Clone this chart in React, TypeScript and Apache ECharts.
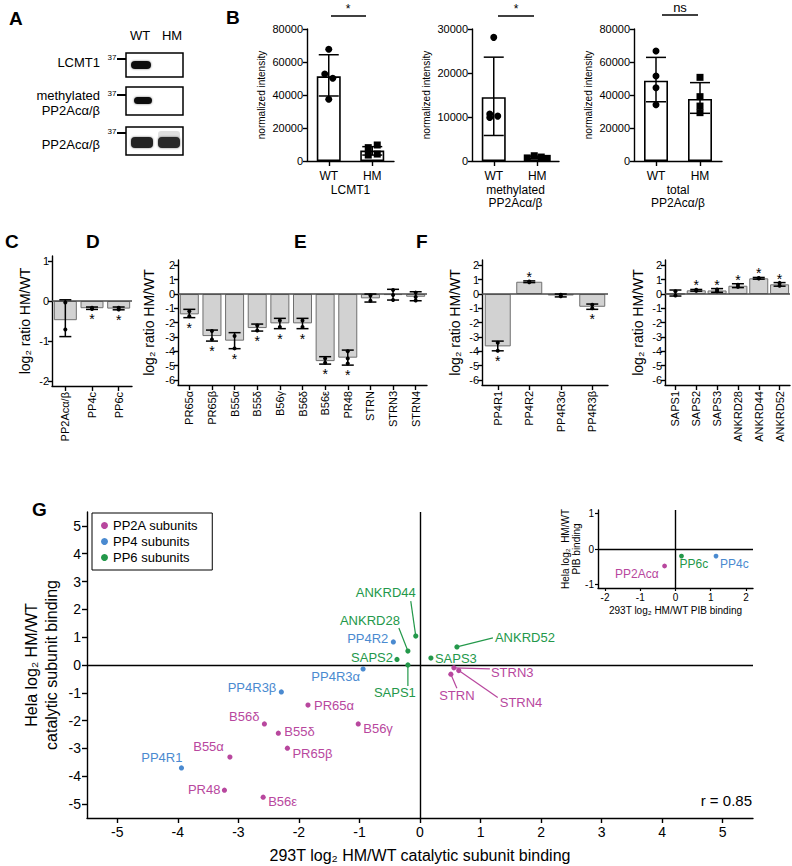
import React, { useEffect, useRef } from "react";
import * as echarts from "echarts";

const FONT = "'Liberation Sans', Arial, Helvetica, sans-serif";
const NARROW = "'Liberation Sans Narrow', 'Liberation Sans', Arial, sans-serif";

// ---------------- Panel B data ----------------
const bCategories = ["WT", "HM"];
const lcmt1Mean = [51300, 6300];
const lcmt1Low = [39400, 3600];
const lcmt1High = [64400, 8700];
const lcmt1WT = [67700, 52700, 50100, 37400];
const lcmt1HM = [9700, 8100, 4200, 3600];

const methMean = [14500, 800];
const methLow = [5800, 500];
const methHigh = [23600, 1100];
const methWT = [28100, 10700, 9900, 10200];
const methHM = [700, 1200, 900, 600];

const totalMean = [48700, 37600];
const totalLow = [35900, 28900];
const totalHigh = [62800, 47500];
const totalWT = [66700, 51500, 44400, 34100];
const totalHM = [50700, 39000, 33300, 29300];

// ---------------- Panel C data ----------------
const cCategories = ["PP2Acα/β", "PP4c", "PP6c"];
const cMeans = [-0.48, -0.18, -0.19];
const cLow = [-0.89, -0.21, -0.22];
const cHigh = [0.03, -0.15, -0.15];
const cPoints = [[-0.04, -0.71], [-0.17, -0.2], [-0.17, -0.21]];
const cStars = ["", "below", "below"];
const cTicks = [-2, -1, 0, 1];

// ---------------- Panel D data ----------------
const dCategories = ["PR65α", "PR65β", "B55α", "B55δ", "B56γ", "B56δ", "B56ε", "PR48", "STRN", "STRN3", "STRN4"];
const dMeans = [-1.42, -2.94, -3.26, -2.38, -2.05, -2.05, -4.69, -4.45, -0.3, -0.07, -0.19];
const dLow = [-1.65, -3.29, -3.82, -2.59, -2.42, -2.42, -4.9, -4.97, -0.56, -0.42, -0.47];
const dHigh = [-1.07, -2.52, -2.7, -2.1, -1.7, -1.7, -4.38, -3.92, 0.0, 0.33, 0.16];
const dPoints = [[-1.2, -1.55], [-2.59, -3.17], [-2.94, -3.8], [-2.2, -2.55], [-1.85, -2.3], [-1.85, -2.3], [-4.5, -4.8], [-4.0, -4.5, -4.85], [-0.1, -0.47], [0.28, -0.07, -0.42], [0.1, -0.2, -0.45]];
const dStars = ["below", "below", "below", "below", "below", "below", "below", "below", "", "", ""];
const defTicks = [-6, -5, -4, -3, -2, -1, 0, 1, 2];

// ---------------- Panel E data ----------------
const eCategories = ["PP4R1", "PP4R2", "PP4R3α", "PP4R3β"];
const eMeans = [-3.66, 0.86, -0.1, -0.89];
const eLow = [-3.97, 0.8, -0.2, -1.07];
const eHigh = [-3.29, 0.92, 0.0, -0.7];
const ePoints = [[-3.4, -3.97], [0.83, 0.88], [-0.05, -0.15], [-0.75, -1.0]];
const eStars = ["below", "above", "", "below"];

// ---------------- Panel F data ----------------
const fCategories = ["SAPS1", "SAPS2", "SAPS3", "ANKRD28", "ANKRD44", "ANKRD52"];
const fMeans = [0.02, 0.26, 0.25, 0.58, 1.1, 0.68];
const fLow = [-0.14, 0.2, 0.12, 0.45, 1.04, 0.55];
const fHigh = [0.28, 0.32, 0.38, 0.72, 1.16, 0.8];
const fPoints = [[0.2, -0.1], [0.22, 0.3], [0.2, 0.32], [0.5, 0.65], [1.08, 1.12], [0.58, 0.78]];
const fStars = ["", "above", "above", "above", "above", "above"];

// ---------------- Panel G data ----------------
const pp2aNames = ["PR65α", "PR65β", "B55α", "B55δ", "B56γ", "B56δ", "B56ε", "PR48", "STRN", "STRN3", "STRN4"];
const pp2aX = [-1.85, -2.19, -3.14, -2.34, -1.02, -2.57, -2.59, -3.23, 0.51, 0.56, 0.64];
const pp2aY = [-1.44, -2.99, -3.31, -2.45, -2.12, -2.12, -4.75, -4.5, -0.33, -0.1, -0.2];
const pp4Names = ["PP4R1", "PP4R2", "PP4R3α", "PP4R3β"];
const pp4X = [-3.94, -0.44, -0.94, -2.29];
const pp4Y = [-3.7, 0.83, -0.14, -0.97];
const pp6Names = ["SAPS1", "SAPS2", "SAPS3", "ANKRD28", "ANKRD44", "ANKRD52"];
const pp6X = [-0.2, -0.38, 0.18, -0.2, -0.07, 0.61];
const pp6Y = [0.0, 0.2, 0.25, 0.5, 1.04, 0.65];
const gTicks = [-5, -4, -3, -2, -1, 0, 1, 2, 3, 4, 5];
const correlationText = "r = 0.85";

// inset
const insetNames = ["PP2Acα", "PP4c", "PP6c"];
const insetX = [-0.31, 1.15, 0.17];
const insetY = [-0.48, -0.2, -0.2];
const insetGroups = ["PP2A", "PP4", "PP6"];
const insetXTicks = [-2, -1, 0, 1, 2];
const insetYTicks = [-1, 0, 1];

// ---------------- styling / layout (not data) ----------------
const COLORS: Record<string, string> = { PP2A: "#b8479e", PP4: "#4a8ad0", PP6: "#23984a" };

const gPlacement: Record<string, { dx: number; dy: number; align: string; line?: [number, number] }> = {
  "PR65α": { dx: 6, dy: 0, align: "left" },
  "PR65β": { dx: 5, dy: 5, align: "left" },
  "B55α": { dx: -6, dy: -11, align: "right" },
  "B55δ": { dx: 6, dy: -2, align: "left" },
  "B56γ": { dx: 5, dy: 5, align: "left" },
  "B56δ": { dx: -5, dy: -7, align: "right" },
  "B56ε": { dx: 5, dy: 4, align: "left" },
  "PR48": { dx: -4, dy: -1, align: "right" },
  "STRN": { dx: 6, dy: 21, align: "center", line: [6, 14] },
  "STRN3": { dx: 37, dy: 5, align: "left", line: [36, 1] },
  "STRN4": { dx: 41, dy: 32, align: "left", line: [39, 27] },
  "PP4R1": { dx: 1, dy: -10, align: "right" },
  "PP4R2": { dx: -5, dy: -3, align: "right" },
  "PP4R3α": { dx: -3, dy: 8, align: "right" },
  "PP4R3β": { dx: -5, dy: -4, align: "right" },
  "SAPS1": { dx: -13, dy: 27, align: "center", line: [0, 21] },
  "SAPS2": { dx: -4, dy: -2, align: "right" },
  "SAPS3": { dx: 4, dy: 0, align: "left" },
  "ANKRD28": { dx: -38, dy: -31, align: "center", line: [-9, -23] },
  "ANKRD44": { dx: -30, dy: -44, align: "center", line: [-5, -35] },
  "ANKRD52": { dx: 38, dy: -9, align: "left", line: [36, -9] },
};
const insetPlacement: Record<string, { dx: number; dy: number; align: string }> = {
  "PP2Acα": { dx: -6, dy: 8, align: "right" },
  "PP4c": { dx: 4, dy: 8, align: "left" },
  "PP6c": { dx: -2, dy: 8, align: "left" },
};

const LW = 1.4;
const axLine = { show: true, onZero: false, lineStyle: { color: "#000", width: LW } };
const plain = (v: number) => String(v);

function buildOption() {
  const grid: any[] = [];
  const xAxis: any[] = [];
  const yAxis: any[] = [];
  const series: any[] = [];

  function addBarPanel(cfg: any) {
    const gi = grid.length;
    const [left, top, width, height] = cfg.box;
    grid.push({ left, top, width, height, containLabel: false, outerBoundsMode: "none" });
    xAxis.push({
      type: "category",
      gridIndex: gi,
      data: cfg.cats,
      axisLine: axLine,
      axisTick: { show: true, alignWithLabel: true, length: 5, lineStyle: { color: "#000", width: LW } },
      axisLabel: cfg.catLabel,
      splitLine: { show: false },
      name: cfg.xName || "",
      nameLocation: "middle",
      nameGap: cfg.xNameGap || 0,
      nameTextStyle: { fontSize: 12, lineHeight: 13, fontFamily: NARROW, color: "#000" },
      nameMoveOverlap: false,
    });
    const yAx: any = {
      type: "value",
      gridIndex: gi,
      min: cfg.min,
      max: cfg.max,
      axisLine: axLine,
      splitLine: { show: false },
      name: cfg.yName,
      nameLocation: "middle",
      nameGap: cfg.yNameGap,
      nameRotate: 90,
      nameTextStyle: { fontSize: cfg.yNameSize, fontFamily: cfg.yNameFont || FONT, color: "#000" },
      nameMoveOverlap: false,
    };
    if (cfg.interval) {
      yAx.interval = cfg.interval;
      yAx.axisTick = { show: true, length: 4, lineStyle: { color: "#000", width: LW } };
      yAx.axisLabel = { fontSize: cfg.yLabelSize, fontFamily: NARROW, color: "#000", margin: 4, formatter: plain };
    } else {
      yAx.axisTick = { show: true, length: 4, customValues: cfg.ticks, lineStyle: { color: "#000", width: LW } };
      yAx.axisLabel = { fontSize: cfg.yLabelSize, fontFamily: NARROW, color: "#000", margin: 3, customValues: cfg.ticks, formatter: plain };
    }
    yAxis.push(yAx);

    const bar: any = {
      type: "bar",
      xAxisIndex: gi,
      yAxisIndex: gi,
      data: cfg.means,
      barWidth: cfg.barWidth,
      silent: true,
      itemStyle: { color: cfg.barColor, borderColor: cfg.barBorder, borderWidth: cfg.barBorderWidth },
      z: 2,
    };
    if (cfg.zeroLine) {
      bar.markLine = {
        silent: true,
        symbol: ["none", "none"],
        label: { show: false },
        lineStyle: { color: "#4a4a4a", width: 1.6, type: "solid" },
        data: [{ yAxis: 0 }],
        z: 3,
      };
    }
    series.push(bar);

    const cap = cfg.capWidth;
    series.push({
      type: "custom",
      xAxisIndex: gi,
      yAxisIndex: gi,
      silent: true,
      z: 4,
      data: cfg.means.map((_: number, i: number) => [i, cfg.low[i], cfg.high[i]]),
      encode: { x: 0, y: [1, 2] },
      renderItem: (_p: any, api: any) => {
        const x = api.value(0);
        const lo = api.coord([x, api.value(1)]);
        const hi = api.coord([x, api.value(2)]);
        const h = cap / 2;
        const st = { stroke: "#000", lineWidth: 1.5 };
        return {
          type: "group",
          children: [
            { type: "line", shape: { x1: lo[0], y1: lo[1], x2: hi[0], y2: hi[1] }, style: st },
            { type: "line", shape: { x1: lo[0] - h, y1: lo[1], x2: lo[0] + h, y2: lo[1] }, style: st },
            { type: "line", shape: { x1: hi[0] - h, y1: hi[1], x2: hi[0] + h, y2: hi[1] }, style: st },
          ],
        };
      },
    });

    const pts: any[] = [];
    cfg.points.forEach((arr: number[], ci: number) => {
      arr.forEach((v: number, k: number) => {
        pts.push({
          value: [ci, v],
          symbol: cfg.pointSymbols ? cfg.pointSymbols[ci] : "circle",
          symbolOffset: [cfg.jitter && cfg.jitter[ci] ? cfg.jitter[ci][k] : 0, 0],
        });
      });
    });
    series.push({
      type: "scatter",
      xAxisIndex: gi,
      yAxisIndex: gi,
      silent: true,
      z: 5,
      symbolSize: cfg.pointSize,
      itemStyle: { color: "#000", opacity: 1 },
      data: pts,
    });

    if (cfg.stars) {
      const sd: any[] = [];
      cfg.stars.forEach((s: string, i: number) => {
        if (s === "below") sd.push([i, cfg.low[i], 1]);
        if (s === "above") sd.push([i, cfg.high[i], 2]);
      });
      series.push({
        type: "custom",
        xAxisIndex: gi,
        yAxisIndex: gi,
        silent: true,
        z: 6,
        data: sd,
        encode: { x: 0, y: 1 },
        renderItem: (_p: any, api: any) => {
          const p = api.coord([api.value(0), api.value(1)]);
          const below = api.value(2) === 1;
          return {
            type: "text",
            style: {
              text: "*",
              x: p[0],
              y: below ? p[1] + 10 : p[1] - 4,
              align: "center",
              verticalAlign: "middle",
              font: `${cfg.starSize}px ${FONT}`,
              fill: "#000",
            },
          };
        },
      });
    }
    return gi;
  }

  // ---- Panel B ----
  const bCat = { fontSize: 12, fontFamily: NARROW, color: "#000", margin: 9 };
  const bCommon = {
    cats: bCategories,
    barWidth: 24,
    barColor: "#fff",
    barBorder: "#000",
    barBorderWidth: 1.6,
    zeroLine: false,
    capWidth: 20,
    pointSize: 7,
    pointSymbols: ["circle", "rect"],
    catLabel: bCat,
    yName: "normalized intensity",
    yNameGap: 41,
    yNameSize: 10,
    yNameFont: NARROW,
    yLabelSize: 11,
    xNameGap: 22,
    min: 0,
  };
  addBarPanel({
    ...bCommon,
    box: [307, 29, 87, 132],
    means: lcmt1Mean, low: lcmt1Low, high: lcmt1High,
    points: [lcmt1WT, lcmt1HM],
    jitter: [[0, -4, 4, 0], [5, -4, 5, -4]],
    max: 80000, interval: 20000, xName: "LCMT1",
  });
  addBarPanel({
    ...bCommon,
    box: [472, 29, 87, 132],
    means: methMean, low: methLow, high: methHigh,
    points: [methWT, methHM],
    jitter: [[0, -4, -4, 4], [-10, -3, 4, 10]],
    max: 30000, interval: 10000, xName: "methylated\nPP2Acα/β",
  });
  addBarPanel({
    ...bCommon,
    box: [634, 29, 88, 132],
    means: totalMean, low: totalLow, high: totalHigh,
    points: [totalWT, totalHM],
    max: 80000, interval: 20000, xName: "total\nPP2Acα/β",
  });

  // ---- Panels C-F ----
  const cfCat = { fontSize: 11, fontFamily: FONT, color: "#000", rotate: 90, margin: 6 };
  const cfCommon = {
    barColor: "#d2d2d2",
    barBorder: "#6f6f6f",
    barBorderWidth: 1,
    zeroLine: true,
    capWidth: 12,
    pointSize: 4,
    catLabel: cfCat,
    yName: "log₂ ratio HM/WT",
    yNameSize: 14,
    yLabelSize: 11,
    starSize: 14,
  };
  addBarPanel({
    ...cfCommon,
    box: [52, 256, 80, 130],
    cats: cCategories, means: cMeans, low: cLow, high: cHigh, points: cPoints, stars: cStars,
    min: -2.125, max: 1.125, ticks: cTicks, barWidth: 23, yNameGap: 20,
  });
  addBarPanel({
    ...cfCommon,
    box: [178, 260, 249, 125],
    cats: dCategories, means: dMeans, low: dLow, high: dHigh, points: dPoints, stars: dStars,
    min: -6.36, max: 2.38, ticks: defTicks, barWidth: 19, yNameGap: 22,
  });
  addBarPanel({
    ...cfCommon,
    box: [482, 260, 126, 125],
    cats: eCategories, means: eMeans, low: eLow, high: eHigh, points: ePoints, stars: eStars,
    min: -6.36, max: 2.38, ticks: defTicks, barWidth: 26, yNameGap: 20,
  });
  addBarPanel({
    ...cfCommon,
    box: [665, 260, 125, 125],
    cats: fCategories, means: fMeans, low: fLow, high: fHigh, points: fPoints, stars: fStars,
    min: -6.36, max: 2.38, ticks: defTicks, barWidth: 19, yNameGap: 20,
  });

  // ---- Panel G ----
  const gi = grid.length;
  grid.push({ left: 87, top: 512, width: 666, height: 306, containLabel: false, outerBoundsMode: "none" });
  xAxis.push({
    type: "value", gridIndex: gi, min: -5.5, max: 5.5,
    axisLine: axLine,
    axisTick: { show: true, length: 5, customValues: gTicks, lineStyle: { color: "#000", width: LW } },
    axisLabel: { customValues: gTicks, fontSize: 14, fontFamily: FONT, color: "#000", margin: 7 },
    splitLine: { show: false },
    name: "293T log₂ HM/WT catalytic subunit binding",
    nameLocation: "middle", nameGap: 29, nameMoveOverlap: false,
    nameTextStyle: { fontSize: 16, fontFamily: FONT, color: "#000" },
  });
  yAxis.push({
    type: "value", gridIndex: gi, min: -5.5, max: 5.5,
    axisLine: axLine,
    axisTick: { show: true, length: 5, customValues: gTicks, lineStyle: { color: "#000", width: LW } },
    axisLabel: { customValues: gTicks, fontSize: 14, fontFamily: FONT, color: "#000", margin: 6 },
    splitLine: { show: false },
    name: "Hela log₂ HM/WT\ncatalytic subunit binding",
    nameLocation: "middle", nameGap: 26, nameRotate: 90, nameMoveOverlap: false,
    nameTextStyle: { fontSize: 16, lineHeight: 20, fontFamily: FONT, color: "#000" },
  });

  const scatterGroup = (
    name: string, color: string, xs: number[], ys: number[], labels: string[],
    gIndex: number, placement: any, fontSize: number, r: number, withZero: boolean,
  ) => {
    const s: any = {
      type: "custom",
      name,
      xAxisIndex: gIndex,
      yAxisIndex: gIndex,
      silent: true,
      z: 5,
      itemStyle: { color },
      data: xs.map((x, i) => [x, ys[i], i]),
      encode: { x: 0, y: 1 },
      renderItem: (_p: any, api: any) => {
        const i = api.value(2);
        const p = api.coord([api.value(0), api.value(1)]);
        const pl = placement[labels[i]];
        const children: any[] = [];
        if (pl.line) {
          children.push({
            type: "line",
            shape: { x1: p[0], y1: p[1], x2: p[0] + pl.line[0], y2: p[1] + pl.line[1] },
            style: { stroke: color, lineWidth: 1.2 },
          });
        }
        children.push({ type: "circle", shape: { cx: p[0], cy: p[1], r }, style: { fill: color } });
        children.push({
          type: "text",
          style: {
            text: labels[i], x: p[0] + pl.dx, y: p[1] + pl.dy,
            fill: color, font: `${fontSize}px ${FONT}`, align: pl.align, verticalAlign: "middle",
          },
        });
        return { type: "group", children };
      },
    };
    if (withZero) {
      s.markLine = {
        silent: true,
        symbol: ["none", "none"],
        label: { show: false },
        lineStyle: { color: "#000", width: LW, type: "solid" },
        data: [{ xAxis: 0 }, { yAxis: 0 }],
        z: 2,
      };
    }
    return s;
  };

  series.push(scatterGroup("PP2A subunits", COLORS.PP2A, pp2aX, pp2aY, pp2aNames, gi, gPlacement, 13, 2.6, true));
  series.push(scatterGroup("PP4 subunits", COLORS.PP4, pp4X, pp4Y, pp4Names, gi, gPlacement, 13, 2.6, false));
  series.push(scatterGroup("PP6 subunits", COLORS.PP6, pp6X, pp6Y, pp6Names, gi, gPlacement, 13, 2.6, false));

  // ---- Inset ----
  const ii = grid.length;
  grid.push({ left: 598, top: 510, width: 155, height: 78, containLabel: false, outerBoundsMode: "none" });
  xAxis.push({
    type: "value", gridIndex: ii, min: -2.2, max: 2.2,
    axisLine: axLine,
    axisTick: { show: true, length: 3, customValues: insetXTicks, lineStyle: { color: "#000", width: 1.2 } },
    axisLabel: { customValues: insetXTicks, fontSize: 10, fontFamily: FONT, color: "#000", margin: 4 },
    splitLine: { show: false },
    name: "293T log₂ HM/WT PIB binding",
    nameLocation: "middle", nameGap: 17, nameMoveOverlap: false,
    nameTextStyle: { fontSize: 10, fontFamily: FONT, color: "#000" },
  });
  yAxis.push({
    type: "value", gridIndex: ii, min: -1.1, max: 1.1,
    axisLine: axLine,
    axisTick: { show: true, length: 3, customValues: insetYTicks, lineStyle: { color: "#000", width: 1.2 } },
    axisLabel: { customValues: insetYTicks, fontSize: 10, fontFamily: FONT, color: "#000", margin: 4 },
    splitLine: { show: false },
    name: "Hela log₂  HM/WT\nPIB binding",
    nameLocation: "middle", nameGap: 16, nameRotate: 90, nameMoveOverlap: false,
    nameTextStyle: { fontSize: 10, lineHeight: 11, fontFamily: FONT, color: "#000" },
  });
  insetNames.forEach((n, i) => {
    series.push(
      scatterGroup("inset " + n, COLORS[insetGroups[i]], [insetX[i]], [insetY[i]], [n], ii, insetPlacement, 12, 2.4, i === 0),
    );
  });

  // ---- graphic: panel letters, blot (A), significance bars, r text ----
  const letter = (t: string, x: number, y: number) => ({
    type: "text", x, y,
    style: { text: t, font: `bold 19px ${FONT}`, fill: "#000", align: "left", verticalAlign: "top" },
  });
  const txt = (t: string, x: number, y: number, size: number, align = "center", family = FONT) => ({
    type: "text", x, y,
    style: { text: t, font: `${size}px ${family}`, fill: "#000", align, verticalAlign: "middle" },
  });
  const seg = (x1: number, y1: number, x2: number, y2: number, w = 1.5) => ({
    type: "line", shape: { x1, y1, x2, y2 }, style: { stroke: "#000", lineWidth: w },
  });
  const box = (x: number, y: number, w: number, h: number) => ({
    type: "rect", shape: { x, y, width: w, height: h }, style: { fill: "#fff", stroke: "#000", lineWidth: 1.5 },
  });
  const band = (x: number, y: number, w: number, h: number, fill = "#111") => ({
    type: "rect", shape: { x, y, width: w, height: h, r: Math.min(4, h / 2) },
    style: { fill, shadowBlur: 2, shadowColor: "rgba(0,0,0,0.5)" },
  });

  const graphic: any[] = [
    letter("A", 9, 9),
    letter("B", 226, 8),
    letter("C", 5, 232),
    letter("D", 86, 232),
    letter("E", 294, 232),
    letter("F", 416, 232),
    letter("G", 32, 500),
    // blot
    txt("WT", 140, 35, 13),
    txt("HM", 172, 35, 13),
    box(126, 53, 57, 24),
    box(126, 87, 57, 28),
    box(126, 127, 57, 28),
    txt("37", 112, 57, 8),
    seg(117, 59, 126, 59, 2),
    txt("37", 112, 93, 8),
    seg(117, 95, 126, 95, 2),
    txt("37", 112, 131, 8),
    seg(117, 133, 126, 133, 2),
    band(131, 61, 20, 8),
    band(134, 97, 18, 7),
    band(131, 137, 22, 11, "#222"),
    { type: "rect", shape: { x: 158, y: 131, width: 22, height: 8, r: 3 }, style: { fill: "rgba(0,0,0,0.12)" } },
    band(158, 137, 22, 11, "#2a2a2a"),
    txt("LCMT1", 100, 62, 13, "right"),
    txt("methylated", 100, 95, 13, "right"),
    txt("PP2Acα/β", 100, 110, 13, "right"),
    txt("PP2Acα/β", 100, 144, 13, "right"),
    // significance bars
    seg(331, 16, 366, 16, 1.5),
    txt("*", 348, 9, 12),
    seg(498, 16, 534, 16, 1.5),
    txt("*", 516, 9, 12),
    seg(662, 15, 698, 15, 1.5),
    txt("ns", 680, 7, 13, "center", NARROW),
    // correlation
    { type: "text", x: 752, y: 800, style: { text: correlationText, font: `15px ${FONT}`, fill: "#000", align: "right", verticalAlign: "middle" } },
  ];

  return {
    animation: false,
    backgroundColor: "#fff",
    textStyle: { fontFamily: FONT },
    grid,
    xAxis,
    yAxis,
    series,
    legend: {
      data: ["PP2A subunits", "PP4 subunits", "PP6 subunits"],
      orient: "vertical",
      left: 92,
      top: 513,
      icon: "circle",
      itemWidth: 7,
      itemHeight: 7,
      itemGap: 3,
      selectedMode: false,
      borderColor: "#000",
      borderWidth: 1,
      borderRadius: 0,
      padding: [6, 14, 6, 9],
      textStyle: { fontSize: 13, fontFamily: FONT, color: "#000" },
    },
    graphic,
  };
}

export default function App() {
  const ref = useRef<HTMLDivElement>(null);
  useEffect(() => {
    const chart = echarts.init(ref.current as HTMLDivElement, null, { renderer: "svg" });
    chart.setOption(buildOption() as any);
    return () => chart.dispose();
  }, []);
  return (
    <div
      ref={ref}
      style={{ position: "absolute", left: 0, top: 0, width: 792, height: 866, background: "#fff" }}
    />
  );
}
